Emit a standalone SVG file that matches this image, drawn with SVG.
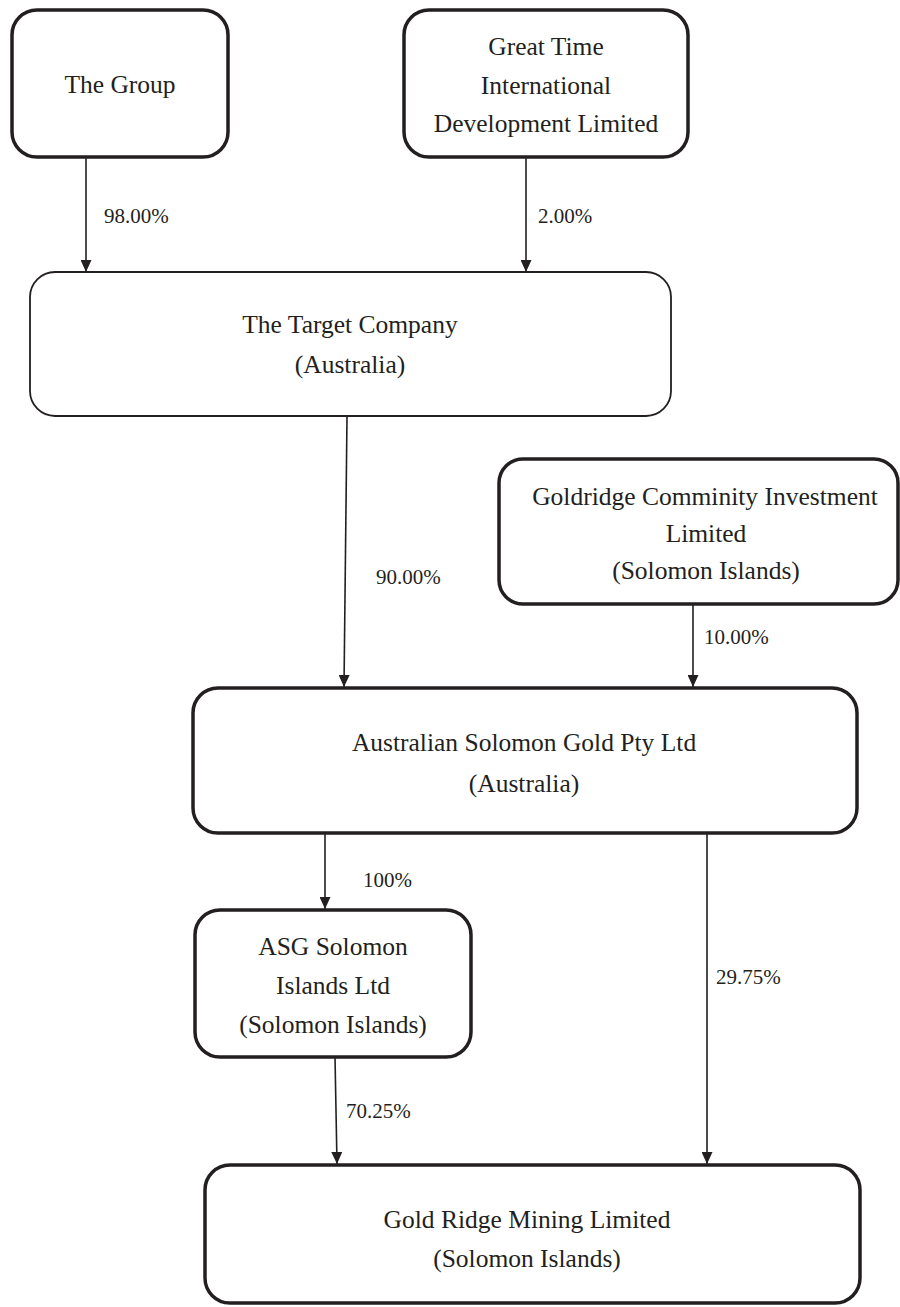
<svg xmlns="http://www.w3.org/2000/svg" width="900" height="1307" viewBox="0 0 900 1307">
<style>
.box{fill:#fff;stroke:#231f20;stroke-width:3.5}
.thin{fill:#fff;stroke:#231f20;stroke-width:1.8}
.t{font-family:"Liberation Serif","Times New Roman",serif;font-size:25.5px;fill:#231f20;text-anchor:middle}
.lbl{font-family:"Liberation Serif","Times New Roman",serif;font-size:21px;fill:#231f20}
.c{stroke:#231f20;stroke-width:1.6;fill:none;marker-end:url(#ah)}
</style>
<defs>
<marker id="ah" markerUnits="userSpaceOnUse" markerWidth="12" markerHeight="11" refX="12" refY="5.5" orient="auto">
<path d="M0,0 L12,5.5 L0,11 z" fill="#231f20"/>
</marker>
</defs>
<rect width="900" height="1307" fill="#fff"/>
<g id="connectors">
<line class="c" x1="86" y1="157" x2="86" y2="272"/>
<text class="lbl" x="104" y="223">98.00%</text>
<line class="c" x1="526" y1="157" x2="526" y2="272"/>
<text class="lbl" x="538" y="223">2.00%</text>
<line class="c" x1="347" y1="417" x2="344" y2="687"/>
<text class="lbl" x="376" y="584">90.00%</text>
<line class="c" x1="693" y1="604" x2="693" y2="687"/>
<text class="lbl" x="704" y="644">10.00%</text>
<line class="c" x1="325" y1="833" x2="325" y2="909"/>
<text class="lbl" x="363" y="887">100%</text>
<line class="c" x1="707" y1="833" x2="707" y2="1164"/>
<text class="lbl" x="716" y="984">29.75%</text>
<line class="c" x1="335" y1="1057" x2="337" y2="1164"/>
<text class="lbl" x="346" y="1118">70.25%</text>
</g>
<g id="the-group">
<rect class="box" x="12" y="10" width="216" height="147" rx="25"/>
<text class="t" x="120" y="93">The Group</text>
</g>
<g id="great-time">
<rect class="box" x="404" y="10" width="284" height="147" rx="25"/>
<text class="t" x="546" y="55">Great Time</text>
<text class="t" x="546" y="94">International</text>
<text class="t" x="546" y="132">Development Limited</text>
</g>
<g id="target-company">
<rect class="thin" x="30" y="272" width="641" height="144" rx="25"/>
<text class="t" x="350" y="333">The Target Company</text>
<text class="t" x="350" y="373">(Australia)</text>
</g>
<g id="goldridge">
<rect class="box" x="499" y="459" width="399" height="145" rx="24"/>
<text class="t" x="705" y="505">Goldridge Comminity Investment</text>
<text class="t" x="706" y="542">Limited</text>
<text class="t" x="706" y="579">(Solomon Islands)</text>
</g>
<g id="asg-pty">
<rect class="box" x="193" y="688" width="664" height="145" rx="25"/>
<text class="t" x="524" y="751">Australian Solomon Gold Pty Ltd</text>
<text class="t" x="524" y="792">(Australia)</text>
</g>
<g id="asg-solomon">
<rect class="box" x="195" y="910" width="276" height="147" rx="25"/>
<text class="t" x="333" y="955">ASG Solomon</text>
<text class="t" x="333" y="994">Islands Ltd</text>
<text class="t" x="333" y="1033">(Solomon Islands)</text>
</g>
<g id="gold-ridge">
<rect class="box" x="205" y="1165" width="655" height="138" rx="25"/>
<text class="t" x="527" y="1228">Gold Ridge Mining Limited</text>
<text class="t" x="527" y="1267">(Solomon Islands)</text>
</g>
</svg>
